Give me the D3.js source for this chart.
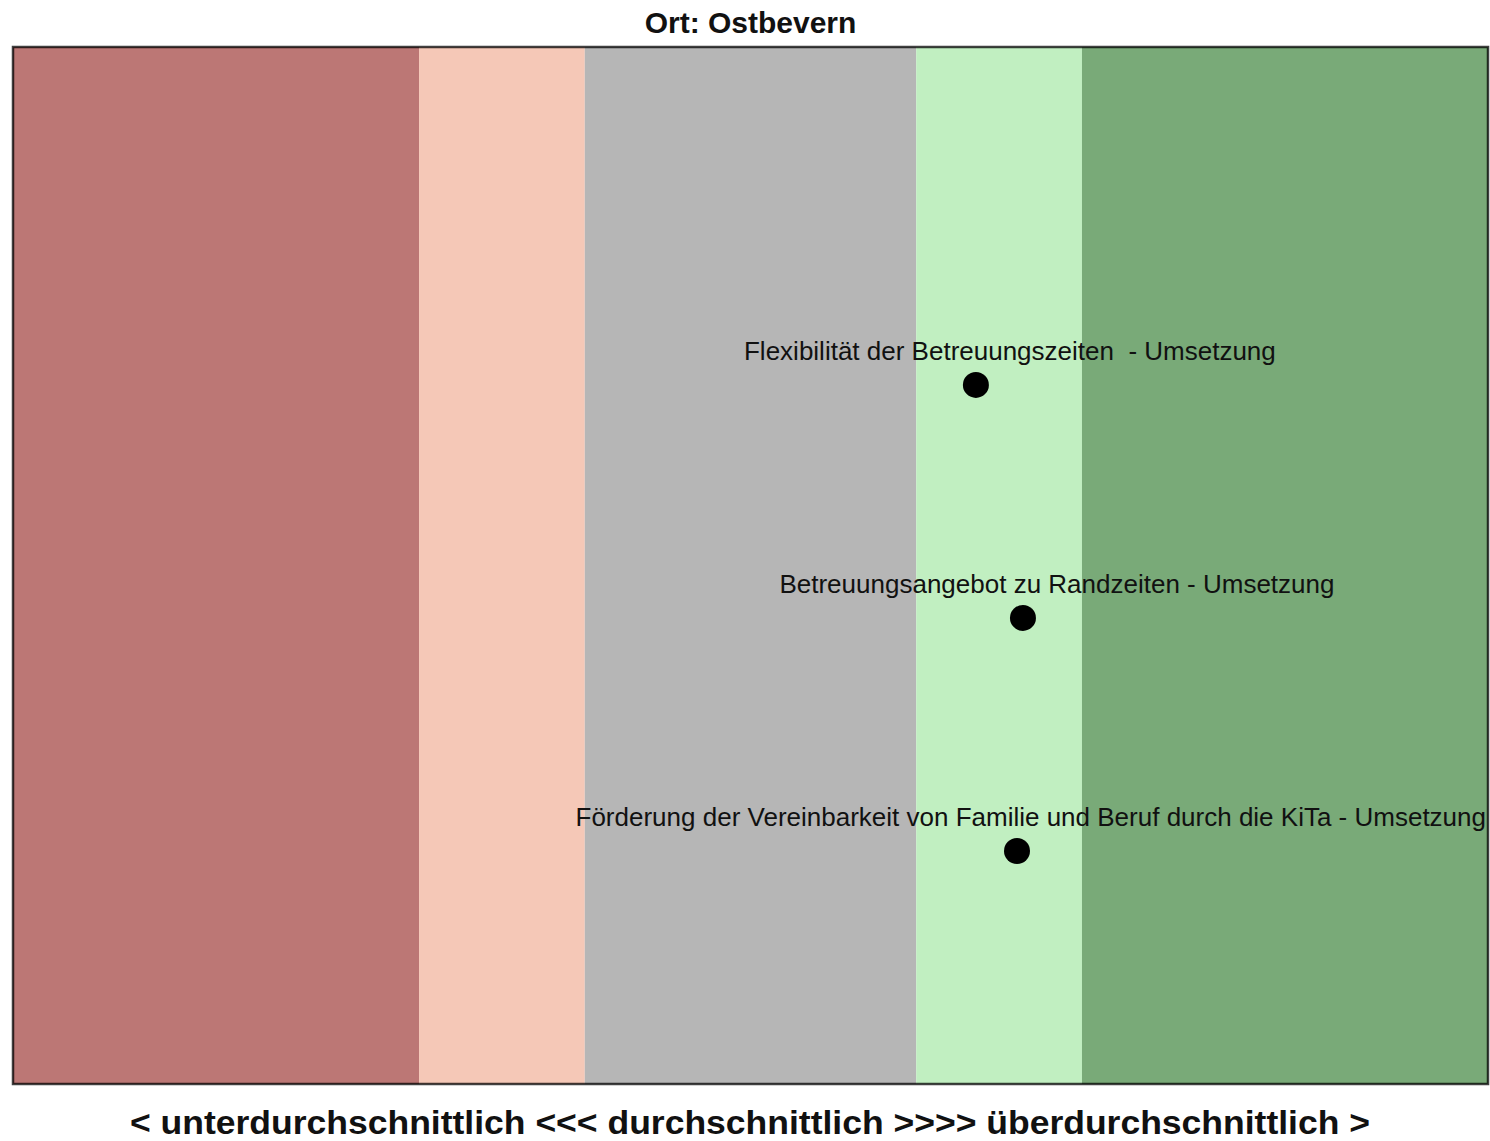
<!DOCTYPE html>
<html><head><meta charset="utf-8">
<script src="https://cdn.jsdelivr.net/npm/d3@7"></script>
<style>body{margin:0;background:#fff}svg{display:block}text{white-space:pre}</style>
</head><body>
<script>
const title = "Ort: Ostbevern";
const axisLabel = "< unterdurchschnittlich <<< durchschnittlich >>>> überdurchschnittlich >";
const xDomain = [-2.225, 2.225];
const bandStarts = [-2.225, -1, -0.5, 0.5, 1];
const bandEnds = [-1, -0.5, 0.5, 1, 2.225];
const bandColors = ["#bc7775", "#f5c8b7", "#b6b6b6", "#c1efc1", "#79aa78"];
const itemLabels = [
  "Flexibilität der Betreuungszeiten  - Umsetzung",
  "Betreuungsangebot zu Randzeiten - Umsetzung",
  "Förderung der Vereinbarkeit von Familie und Beruf durch die KiTa - Umsetzung"
];
const itemPositions = [1, 2, 3];
const itemValues = [0.68, 0.822, 0.804];

const W = 1490, H = 1141;
const m = {left: 13, right: 2, top: 47, bottom: 57};
const svg = d3.select("body").append("svg").attr("width", W).attr("height", H);
const x = d3.scaleLinear().domain(xDomain).range([m.left, W - m.right]);
const y = d3.scaleLinear().domain([-0.45, 4]).range([m.top, H - m.bottom]);

svg.selectAll("rect.band").data(bandStarts).join("rect").attr("class", "band")
  .attr("x", (d) => x(d)).attr("width", (d, i) => x(bandEnds[i]) - x(d))
  .attr("y", y(-0.45)).attr("height", y(4) - y(-0.45))
  .attr("fill", (d, i) => bandColors[i]);

svg.append("rect").attr("x", x(xDomain[0])).attr("y", y(-0.45))
  .attr("width", x(xDomain[1]) - x(xDomain[0])).attr("height", y(4) - y(-0.45))
  .attr("fill", "none").attr("stroke", "#000").attr("stroke-opacity", 0.75).attr("stroke-width", 2.5);

svg.selectAll("circle.pt").data(itemValues).join("circle").attr("class", "pt")
  .attr("cx", (d) => x(d)).attr("cy", (d, i) => y(itemPositions[i])).attr("r", 13).attr("fill", "#000");

const labels = svg.selectAll("text.lbl").data(itemLabels).join("text").attr("class", "lbl")
  .attr("font-family", "Liberation Sans, Arial, sans-serif").attr("font-size", 26)
  .attr("fill", "#111").attr("y", (d, i) => y(itemPositions[i]) - 25)
  .text((d) => d);
labels.each(function(d, i) {
  const w = this.getComputedTextLength();
  let cx = x(itemValues[i]) + 34;
  let left = cx - w / 2;
  if (left + w > W - m.right - 2) left = W - m.right - 2 - w;
  d3.select(this).attr("x", left);
});

svg.append("text").attr("x", (m.left + W - m.right) / 2).attr("y", 33)
  .attr("text-anchor", "middle").attr("font-family", "Liberation Sans, Arial, sans-serif")
  .attr("font-weight", "bold").attr("font-size", 30).attr("fill", "#111").text(title);

svg.append("text").attr("x", 130).attr("y", 1134)
  .attr("font-family", "Liberation Sans, Arial, sans-serif")
  .attr("textLength", 1240).attr("lengthAdjust", "spacingAndGlyphs")
  .attr("font-weight", "bold").attr("font-size", 33).attr("fill", "#111").text(axisLabel);
</script>
</body></html>
